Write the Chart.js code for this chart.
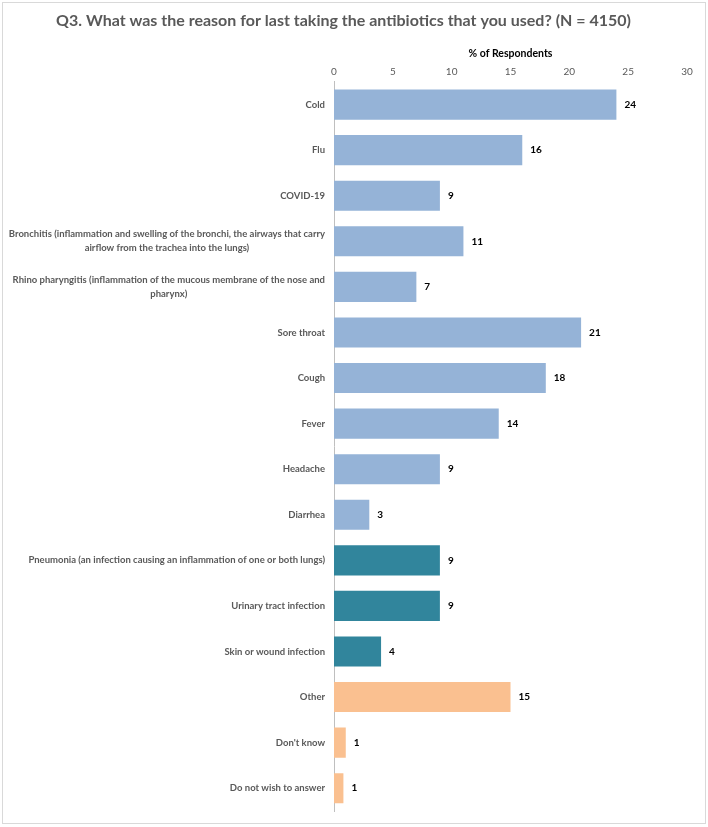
<!DOCTYPE html>
<html lang="en">
  <head>
    <meta charset="UTF-8" />
    <title>Q3 antibiotics reasons</title>
    <script src="https://cdn.jsdelivr.net/npm/chart.js@4"></script>
    <style>
      body { margin: 0; background: #fff; }
      #wrap { position: relative; width: 708px; height: 827px; }
      #frame {
        position: absolute; left: 2px; top: 2px; width: 702px; height: 820px;
        border: 1px solid #d9d9d9; pointer-events: none;
      }
    </style>
  </head>
  <body>
    <div id="wrap">
      <canvas id="myChart" width="708" height="827"></canvas>
      <div id="frame"></div>
    </div>
    <script>
      // categories (multi-line ones are arrays)
      const reasons = [
        "Cold",
        "Flu",
        "COVID-19",
        ["Bronchitis (inflammation and swelling of the bronchi, the airways that carry", "airflow from the trachea into the lungs)"],
        ["Rhino pharyngitis (inflammation of the mucous membrane of the nose and", "pharynx)"],
        "Sore throat",
        "Cough",
        "Fever",
        "Headache",
        "Diarrhea",
        "Pneumonia (an infection causing an inflammation of one or both lungs)",
        "Urinary tract infection",
        "Skin or wound infection",
        "Other",
        "Don't know",
        "Do not wish to answer",
      ];
      // % of respondents
      const percents = [24, 16, 9, 11, 7, 21, 18, 14, 9, 3, 9, 9, 4, 15, 1, 0.8];
      const valueLabels = ["24", "16", "9", "11", "7", "21", "18", "14", "9", "3", "9", "9", "4", "15", "1", "1"];
      // colour group per bar: symptom / diagnosed infection / other
      const groups = ["s", "s", "s", "s", "s", "s", "s", "s", "s", "s", "i", "i", "i", "o", "o", "o"];
      const groupColors = { s: "#95b3d7", i: "#31859c", o: "#fac090" };

      const textColor = "#595959";
      const fontFam = "Lato, 'Open Sans', sans-serif";

      // draw the category labels right of centre, lines centred on each other (like Excel)
      const catLabels = {
        id: "catLabels",
        afterDraw(chart) {
          const ctx = chart.ctx;
          const yScale = chart.scales.y;
          const right = yScale.right - 9;
          ctx.save();
          ctx.font = "bold 9.5px " + fontFam;
          ctx.fillStyle = textColor;
          ctx.textAlign = "center";
          ctx.textBaseline = "middle";
          reasons.forEach((lab, i) => {
            const lines = Array.isArray(lab) ? lab : [lab];
            const w = Math.max(...lines.map((l) => ctx.measureText(l).width));
            const cx = right - w / 2;
            const yc = yScale.getPixelForValue(i);
            const lh = 14;
            lines.forEach((l, j) => {
              ctx.fillText(l, cx, yc + (j - (lines.length - 1) / 2) * lh);
            });
          });
          ctx.restore();
        },
      };

      // value labels after the bar ends
      const barValues = {
        id: "barValues",
        afterDatasetsDraw(chart) {
          const ctx = chart.ctx;
          const meta = chart.getDatasetMeta(0);
          ctx.save();
          ctx.font = "bold 10px " + fontFam;
          ctx.fillStyle = "#000";
          ctx.textAlign = "left";
          ctx.textBaseline = "middle";
          meta.data.forEach((bar, i) => {
            ctx.fillText(valueLabels[i], bar.x + 8, bar.y);
          });
          ctx.restore();
        },
      };

      const ctx = document.getElementById("myChart").getContext("2d");
      const chart = new Chart(ctx, {
        type: "bar",
        data: {
          labels: reasons,
          datasets: [
            {
              label: "% of Respondents",
              data: percents,
              backgroundColor: groups.map((g) => groupColors[g]),
              barPercentage: 0.66,
              categoryPercentage: 1,
            },
          ],
        },
        options: {
          indexAxis: "y",
          responsive: false,
          animation: false,
          layout: { padding: { left: 0, right: 21, bottom: 16, top: 0 } },
          plugins: {
            legend: { display: false },
            tooltip: { enabled: false },
            title: {
              display: true,
              text: "Q3. What was the reason for last taking the antibiotics that you used? (N = 4150)",
              color: textColor,
              font: { family: fontFam, size: 16, weight: "bold" },
              padding: { top: 11, bottom: 15 },
            },
          },
          scales: {
            x: {
              position: "top",
              min: 0,
              max: 30,
              ticks: {
                stepSize: 5,
                color: textColor,
                font: { family: fontFam, size: 10 },
                padding: 4,
              },
              grid: { display: false, drawTicks: false },
              border: { display: false },
              title: {
                display: true,
                text: "% of Respondents",
                color: "#000",
                font: { family: fontFam, size: 10.5, weight: "bold" },
                padding: { top: 2, bottom: 2 },
              },
            },
            y: {
              ticks: { display: false },
              grid: { display: false },
              border: { display: true, color: "#bfbfbf", width: 1 },
              afterFit: (s) => {
                s.width = 334;
              },
            },
          },
        },
        plugins: [catLabels, barValues],
      });
    </script>
  </body>
</html>
